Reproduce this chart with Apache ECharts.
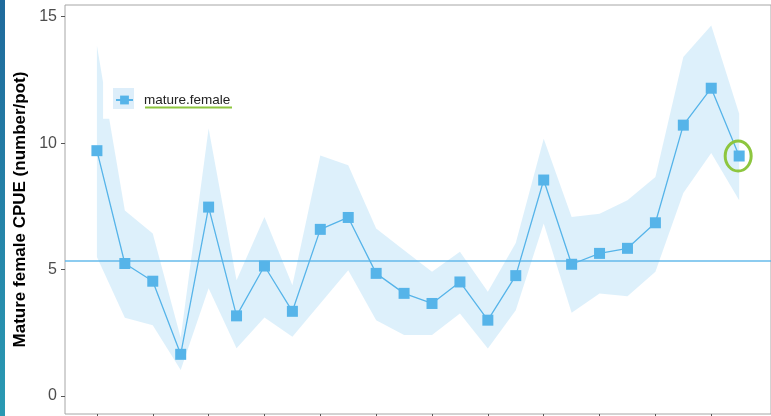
<!DOCTYPE html>
<html>
<head>
<meta charset="utf-8">
<script src="https://cdn.jsdelivr.net/npm/echarts@6/dist/echarts.min.js"></script>
<style>
html,body{margin:0;padding:0;background:#fff;}
#c{width:771px;height:416px;}
</style>
</head>
<body>
<div id="c"></div>
<script>
// x positions (sample index) of the points
var xIndex = [0,1,2,3,4,5,6,7,8,9,10,11,12,13,14,15,16,17,18,19,20,21,22,23];
// mature female CPUE values
var cpue = [9.70,5.24,4.54,1.65,7.47,3.17,5.14,3.35,6.59,7.06,4.85,4.06,3.66,4.51,3.00,4.76,8.54,5.21,5.64,5.84,6.85,10.71,12.17,9.49];
// ribbon upper bound [x, value]
var ribbonUpper = [[0,13.86],[0.22,12.41],[0.22,10.96],[0.44,10.96],[1,7.34],[2,6.43],[3,2.3],[4,10.58],[5,4.58],[6,7.08],[7,4.38],[8,9.51],[9,9.12],[10,6.62],[11,5.76],[12,4.91],[13,5.70],[14,4.12],[15,6.05],[16,10.17],[17,7.08],[18,7.21],[19,7.74],[20,8.66],[21,13.4],[22,14.65],[23,11.16]];
// ribbon lower bound [x, value]
var ribbonLower = [[0,5.5],[1,3.1],[2,2.8],[3,1.03],[4,4.26],[5,1.89],[6,3.11],[7,2.34],[8,3.66],[9,4.97],[10,3.0],[11,2.41],[12,2.41],[13,3.26],[14,1.88],[15,3.39],[16,6.82],[17,3.29],[18,4.05],[19,3.95],[20,4.91],[21,8.03],[22,9.61],[23,7.74]];
// reference level (horizontal line)
var refLevel = 5.33;
// axis ticks
var yTicks = [0,5,10,15];
var xTicks = [0,2,4,6,8,10,12,14,16,18,20,22];
var seriesName = 'mature.female';
var yTitle = 'Mature female CPUE (number/pot)';

var blue = '#56B4E9';
var chart = echarts.init(document.getElementById('c'));
var points = xIndex.map(function(x,i){return [x, cpue[i]];});

chart.setOption({
  animation: false,
  grid: {left: 65, top: 5, right: -2, bottom: 2, show: true, borderColor: '#a6a6a6', borderWidth: 1, containLabel: false},
  xAxis: {
    type: 'value', min: -1.143, max: 24.14,
    splitLine: {show: false},
    axisLine: {show: false, onZero: false},
    axisLabel: {show: false},
    axisTick: {show: true, length: 4, customValues: xTicks, lineStyle: {color: '#555', width: 1}}
  },
  yAxis: {
    type: 'value', min: -0.71, max: 15.46,
    splitLine: {show: false},
    axisLine: {show: false, onZero: false},
    axisTick: {show: true, length: 4, customValues: yTicks, lineStyle: {color: '#555', width: 1}},
    axisLabel: {customValues: yTicks, color: '#4d4d4d', fontSize: 16, fontFamily: 'Liberation Sans', margin: 8},
    name: yTitle, nameLocation: 'middle', nameGap: 36, nameRotate: 90, nameMoveOverlap: false,
    nameTextStyle: {color: '#000', fontSize: 17, fontWeight: 'bold', fontFamily: 'Liberation Sans'}
  },
  legend: {
    data: [seriesName], left: 115, top: 93, padding: 0, itemWidth: 17, itemHeight: 11,
    textStyle: {color: '#222', fontSize: 13.5, fontFamily: 'Liberation Sans', padding: [0,0,0,6]}
  },
  series: [
    {
      type: 'custom', name: 'ribbon', silent: true, z: 1,
      data: [[0, 0]],
      clip: true,
      renderItem: function(params, api){
        var pts = [];
        ribbonUpper.forEach(function(p){ pts.push(api.coord(p)); });
        for (var i = ribbonLower.length - 1; i >= 0; i--) pts.push(api.coord(ribbonLower[i]));
        return {type: 'polygon', shape: {points: pts}, style: {fill: 'rgba(86,180,233,0.2)', stroke: null}};
      }
    },
    {
      type: 'line', name: seriesName, data: points, z: 3,
      symbol: 'rect', symbolSize: 11,
      itemStyle: {color: blue},
      lineStyle: {color: blue, width: 1.3},
      markLine: {
        silent: true, symbol: 'none', label: {show: false},
        lineStyle: {color: blue, width: 1.5, type: 'solid', opacity: 0.9},
        data: [{yAxis: refLevel}]
      }
    }
  ]
});

var last = chart.convertToPixel({gridIndex: 0}, [xIndex[xIndex.length-1], cpue[cpue.length-1]]);
chart.setOption({
  graphic: [
    {type: 'rect', shape: {x: 0, y: 0, width: 5, height: 416}, z: 10,
     style: {fill: new echarts.graphic.LinearGradient(0,0,0,1,[{offset:0,color:'#1f6a9c'},{offset:1,color:'#2a9ab3'}])}},
    {type: 'rect', shape: {x: 113, y: 88, width: 21, height: 21}, z: 0,
     style: {fill: '#ddeefa'}},
    {type: 'line', shape: {x1: 145, y1: 107.5, x2: 232, y2: 107.5}, z: 10,
     style: {stroke: '#8dc63f', lineWidth: 2}},
    {type: 'ellipse', shape: {cx: last[0] - 1, cy: last[1], rx: 13, ry: 15}, z: 10,
     style: {fill: 'none', stroke: '#8dc63f', lineWidth: 3}}
  ]
});
</script>
</body>
</html>
